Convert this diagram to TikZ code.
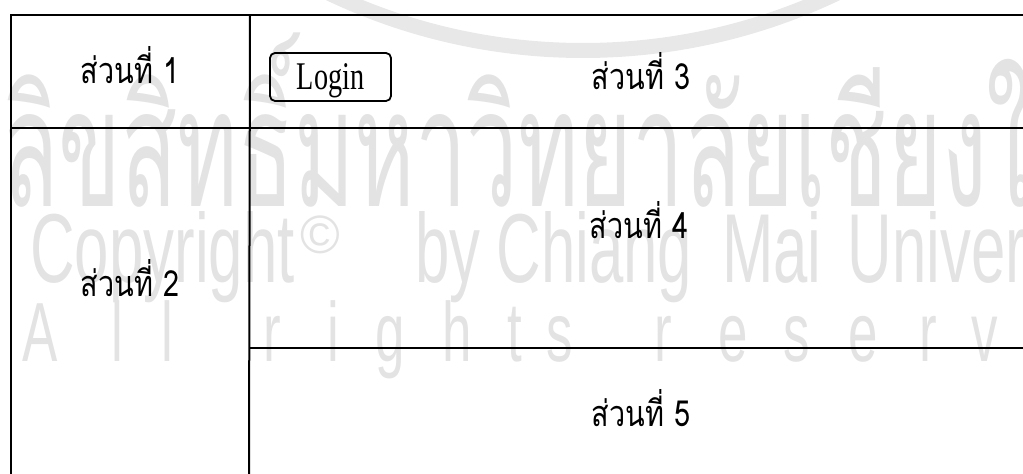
\documentclass[tikz,border=0pt]{standalone}
\usepackage{fontspec}
\setmainfont{Liberation Serif}
\setsansfont{Liberation Sans}
\newfontfamily\thaifont[Script=Thai,FakeStretch=0.8]{Loma}
\newfontfamily\wmthai[Script=Thai,FakeStretch=0.56]{Loma}
\newfontfamily\wmsans[FakeStretch=0.63]{Liberation Sans}
\newfontfamily\loginfont[FakeStretch=0.72]{Liberation Serif}

\tikzset{
  divider/.style={line width=1pt},
  part/.style={anchor=base, inner sep=0pt, font=\thaifont\fontsize{18}{18}\selectfont},
  button/.style={draw, line width=0.9pt, rounded corners=2.5pt,
    minimum width=60.5pt, minimum height=24pt, inner sep=0pt,
    text height=13pt, text depth=0pt, font=\loginfont\fontsize{19.6}{20}\selectfont},
  wmark/.style={text=black!11, inner sep=0pt, anchor=base west},
}

\begin{document}
\begin{tikzpicture}[x=0.5pt, y=-0.5pt]
\useasboundingbox (0,0) rectangle (1023,474);

% watermark behind the layout
\begin{scope}
\clip (0,0) rectangle (1023,474);
\draw[black!9, line width=7.5pt] (583,-540) circle [radius=590.5];
\node[wmark, font=\wmthai\fontsize{82}{82}\selectfont] (wm-th) at (2,207) {ลิขสิทธิ์มหาวิทยาลัยเชียงใหม่};
\node[wmark, font=\wmsans\fontsize{49}{49}\selectfont] (wm-copy) at (30,283) {Copyright};
\node[wmark, font=\sffamily\fontsize{27}{27}\selectfont] (wm-c) at (300,254) {\copyright};
\node[wmark, font=\wmsans\fontsize{49}{49}\selectfont] (wm-by) at (415,283)
  {by\hspace{8pt}Chiang\hspace{15pt}Mai\hspace{13pt}University};
\foreach \ch/\x in {A/40, l/117, l/167, r/272, i/333, g/390, h/457, t/515, s/560,
                    r/663, e/733, s/797, e/863, r/928, v/985, e/1050}
  \node[text=black!11, anchor=base, inner sep=0pt, font=\wmsans\fontsize{42}{42}\selectfont] at (\x,362) {\ch};
\end{scope}

% frame
\coordinate (nw) at (11,15);
\coordinate (ne) at (1023,15);
\coordinate (sw) at (11,474);
\coordinate (cn) at (250,15);
\coordinate (cs) at (249,474);
\coordinate (mw) at (11,128);
\coordinate (me) at (1023,128);
\coordinate (lw) at (249,348);
\coordinate (le) at (1023,348);

\draw[divider] (ne) -- (nw) -- (sw);
\draw[divider] (cn) -- (cs);
\draw[divider] (mw) -- (me);
\draw[divider] (lw) -- (le);

\node[part] (part1) at (130,84)  {ส่วนที่ 1};
\node[part] (part2) at (130,297) {ส่วนที่ 2};
\node[part] (part3) at (641,90)  {ส่วนที่ 3};
\node[part] (part4) at (639,239) {ส่วนที่ 4};
\node[part] (part5) at (641,427) {ส่วนที่ 5};
\node[button] (login) at (330.5,77) {Login};
\end{tikzpicture}
\end{document}
